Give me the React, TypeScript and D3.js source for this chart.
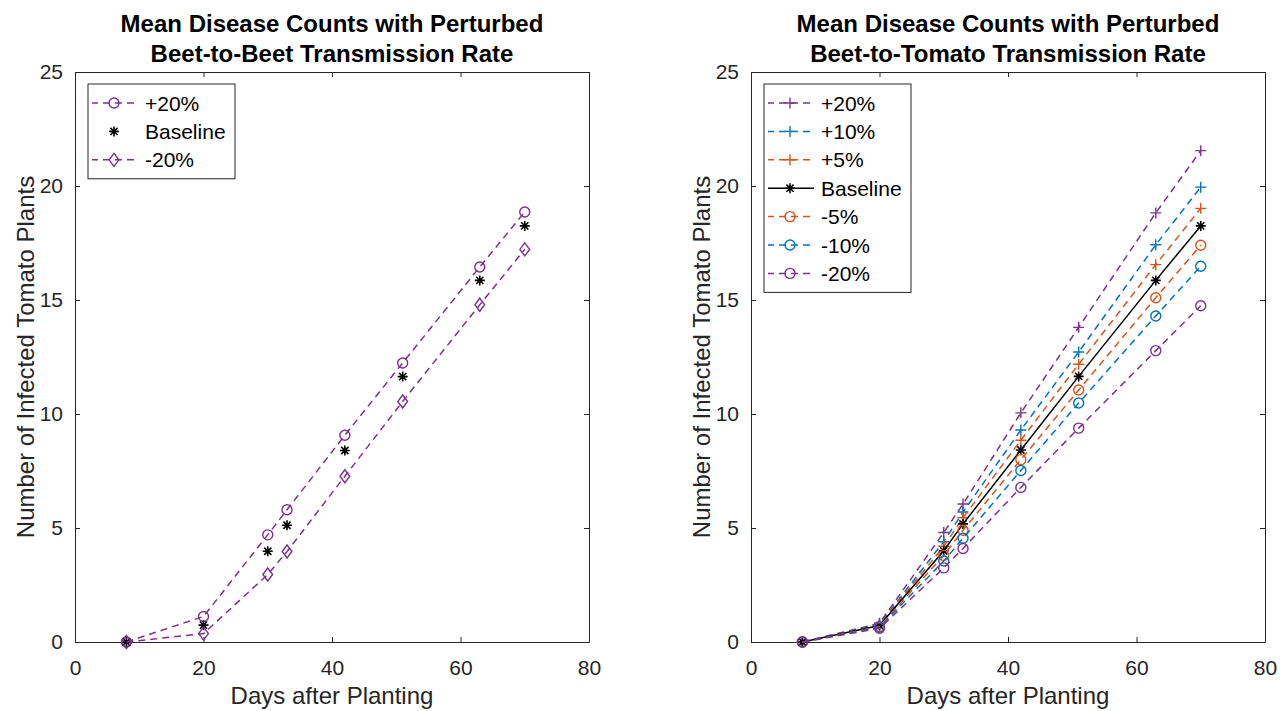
import React, { useRef, useEffect } from 'react';
import * as d3 from 'd3';

// sampling days (both panels)
const days = [8, 20, 30, 33, 42, 51, 63, 70];

// left panel: perturbed beet-to-beet rate
const bbPlus20 = [0, 1.12, 4.7, 5.8, 9.07, 12.24, 16.45, 18.86];
const bbBaseline = [0, 0.74, 3.98, 5.12, 8.4, 11.64, 15.86, 18.25];
const bbMinus20 = [0, 0.37, 2.96, 3.97, 7.27, 10.55, 14.79, 17.22];

// right panel: perturbed beet-to-tomato rate
const btPlus20 = [0, 0.82, 4.8, 6.05, 10.05, 13.8, 18.82, 21.55];
const btPlus10 = [0, 0.78, 4.4, 5.7, 9.3, 12.72, 17.42, 19.95];
const btPlus5 = [0, 0.74, 4.2, 5.45, 8.85, 12.18, 16.55, 19.02];
const btBaseline = [0, 0.72, 4.0, 5.18, 8.42, 11.65, 15.86, 18.25];
const btMinus5 = [0, 0.68, 3.8, 4.9, 8.0, 11.05, 15.1, 17.4];
const btMinus10 = [0, 0.65, 3.55, 4.55, 7.52, 10.48, 14.3, 16.48];
const btMinus20 = [0, 0.6, 3.25, 4.1, 6.78, 9.38, 12.78, 14.75];

const xTicks = [0, 20, 40, 60, 80];
const yTicks = [0, 5, 10, 15, 20, 25];

const purple = '#7E2F8E';
const blue = '#0072BD';
const orange = '#D95319';
const axisColor = '#262626';
const font = 'Liberation Sans, Arial, Helvetica, sans-serif';

type Series = {
  label: string;
  values: number[];
  color: string;
  marker: string;
  line: string; // 'dash' | 'solid' | 'none'
};

const leftSeries: Series[] = [
  { label: '+20%', values: bbPlus20, color: purple, marker: 'o', line: 'dash' },
  { label: 'Baseline', values: bbBaseline, color: '#000', marker: '*', line: 'none' },
  { label: '-20%', values: bbMinus20, color: purple, marker: 'd', line: 'dash' },
];

const rightSeries: Series[] = [
  { label: '+20%', values: btPlus20, color: purple, marker: '+', line: 'dash' },
  { label: '+10%', values: btPlus10, color: blue, marker: '+', line: 'dash' },
  { label: '+5%', values: btPlus5, color: orange, marker: '+', line: 'dash' },
  { label: 'Baseline', values: btBaseline, color: '#000', marker: '*', line: 'solid' },
  { label: '-5%', values: btMinus5, color: orange, marker: 'o', line: 'dash' },
  { label: '-10%', values: btMinus10, color: blue, marker: 'o', line: 'dash' },
  { label: '-20%', values: btMinus20, color: purple, marker: 'o', line: 'dash' },
];

function drawMarker(g: any, type: string, cx: number, cy: number, color: string) {
  if (type === 'o') {
    g.append('circle').attr('cx', cx).attr('cy', cy).attr('r', 5)
      .attr('fill', 'none').attr('stroke', color).attr('stroke-width', 1.4);
  } else if (type === 'd') {
    const s = 6.5;
    g.append('path')
      .attr('d', `M${cx},${cy - s}L${cx + s * 0.75},${cy}L${cx},${cy + s}L${cx - s * 0.75},${cy}Z`)
      .attr('fill', 'none').attr('stroke', color).attr('stroke-width', 1.4);
  } else if (type === '+') {
    const s = 5.5;
    g.append('path')
      .attr('d', `M${cx - s},${cy}H${cx + s}M${cx},${cy - s}V${cy + s}`)
      .attr('stroke', color).attr('stroke-width', 1.4);
  } else if (type === '*') {
    const s = 5;
    const d = s * 0.72;
    g.append('path')
      .attr('d', `M${cx - s},${cy}H${cx + s}M${cx},${cy - s}V${cy + s}` +
        `M${cx - d},${cy - d}L${cx + d},${cy + d}M${cx - d},${cy + d}L${cx + d},${cy - d}`)
      .attr('stroke', color).attr('stroke-width', 1.6);
  }
}

function drawPanel(svg: any, left: number, title: string[], series: Series[]) {
  const width = 514;
  const top = 72;
  const bottom = 642;
  const right = left + width;

  const x = d3.scaleLinear().domain([0, 80]).range([left, right]);
  const y = d3.scaleLinear().domain([0, 25]).range([bottom, top]);

  const styleAxis = (g: any) => {
    g.attr('font-family', font).attr('font-size', 21);
    g.select('.domain').attr('stroke', axisColor).attr('stroke-width', 1);
    g.selectAll('.tick line').attr('stroke', axisColor).attr('stroke-width', 1);
    g.selectAll('.tick text').attr('fill', axisColor);
  };

  svg.append('g')
    .attr('transform', `translate(0,${bottom})`)
    .call(d3.axisBottom(x).tickValues(xTicks).tickSizeInner(-5).tickSizeOuter(0).tickPadding(18))
    .call(styleAxis);
  svg.append('g')
    .attr('transform', `translate(0,${top})`)
    .call(d3.axisTop(x).tickValues(xTicks).tickSizeInner(-5).tickSizeOuter(0).tickFormat(() => ''))
    .call(styleAxis);
  svg.append('g')
    .attr('transform', `translate(${left},0)`)
    .call(d3.axisLeft(y).tickValues(yTicks).tickSizeInner(-5).tickSizeOuter(0).tickPadding(12))
    .call(styleAxis);
  svg.append('g')
    .attr('transform', `translate(${right},0)`)
    .call(d3.axisRight(y).tickValues(yTicks).tickSizeInner(-5).tickSizeOuter(0).tickFormat(() => ''))
    .call(styleAxis);

  // title
  const cx = (left + right) / 2;
  title.forEach((t, i) => {
    svg.append('text')
      .attr('x', cx).attr('y', 32 + i * 30)
      .attr('text-anchor', 'middle')
      .attr('font-family', font).attr('font-size', 24).attr('font-weight', 'bold')
      .attr('fill', '#000')
      .text(t);
  });

  // axis labels
  svg.append('text')
    .attr('x', cx).attr('y', 704)
    .attr('text-anchor', 'middle')
    .attr('font-family', font).attr('font-size', 24).attr('fill', axisColor)
    .text('Days after Planting');
  svg.append('text')
    .attr('transform', `translate(${left - 41},${(top + bottom) / 2}) rotate(-90)`)
    .attr('text-anchor', 'middle')
    .attr('font-family', font).attr('font-size', 24).attr('fill', axisColor)
    .text('Number of Infected Tomato Plants');

  // series
  const line = d3.line<number>()
    .x((_, i) => x(days[i]))
    .y(d => y(d));

  series.forEach(s => {
    if (s.line !== 'none') {
      svg.append('path')
        .attr('d', line(s.values))
        .attr('fill', 'none')
        .attr('stroke', s.color)
        .attr('stroke-width', 1.5)
        .attr('stroke-dasharray', s.line === 'dash' ? '7,5' : null);
    }
    const mg = svg.append('g');
    s.values.forEach((v, i) => drawMarker(mg, s.marker, x(days[i]), y(v), s.color));
  });

  // legend
  const lx = left + 13;
  const ly = 84;
  const rowH = 28.4;
  const boxW = 147;
  const boxH = 38 + (series.length - 1) * rowH;
  const lg = svg.append('g');
  lg.append('rect')
    .attr('x', lx).attr('y', ly).attr('width', boxW).attr('height', boxH)
    .attr('fill', '#fff').attr('stroke', axisColor).attr('stroke-width', 1);
  series.forEach((s, i) => {
    const ry = ly + 19 + i * rowH;
    if (s.line !== 'none') {
      lg.append('line')
        .attr('x1', lx + 4).attr('x2', lx + 50).attr('y1', ry).attr('y2', ry)
        .attr('stroke', s.color).attr('stroke-width', 1.5)
        .attr('stroke-dasharray', s.line === 'dash' ? '7,5' : null)
        .attr('stroke-dashoffset', s.line === 'dash' ? 1 : null);
    }
    drawMarker(lg, s.marker, lx + 26, ry, s.color);
    lg.append('text')
      .attr('x', lx + 57).attr('y', ry + 7.5)
      .attr('font-family', font).attr('font-size', 21).attr('fill', '#000')
      .text(s.label);
  });
}

const App = () => {
  const svgRef = useRef<SVGSVGElement>(null);

  useEffect(() => {
    const svg = d3.select(svgRef.current);
    svg.selectAll('*').remove();

    svg.append('rect').attr('width', 1286).attr('height', 711).attr('fill', '#fff');

    drawPanel(svg, 75,
      ['Mean Disease Counts with Perturbed', 'Beet-to-Beet Transmission Rate'], leftSeries);
    drawPanel(svg, 751,
      ['Mean Disease Counts with Perturbed', 'Beet-to-Tomato Transmission Rate'], rightSeries);
  }, []);

  return (
    <svg
      ref={svgRef}
      width={1286}
      height={711}
      style={{ position: 'absolute', left: 0, top: 0 }}
    ></svg>
  );
};

export default App;
